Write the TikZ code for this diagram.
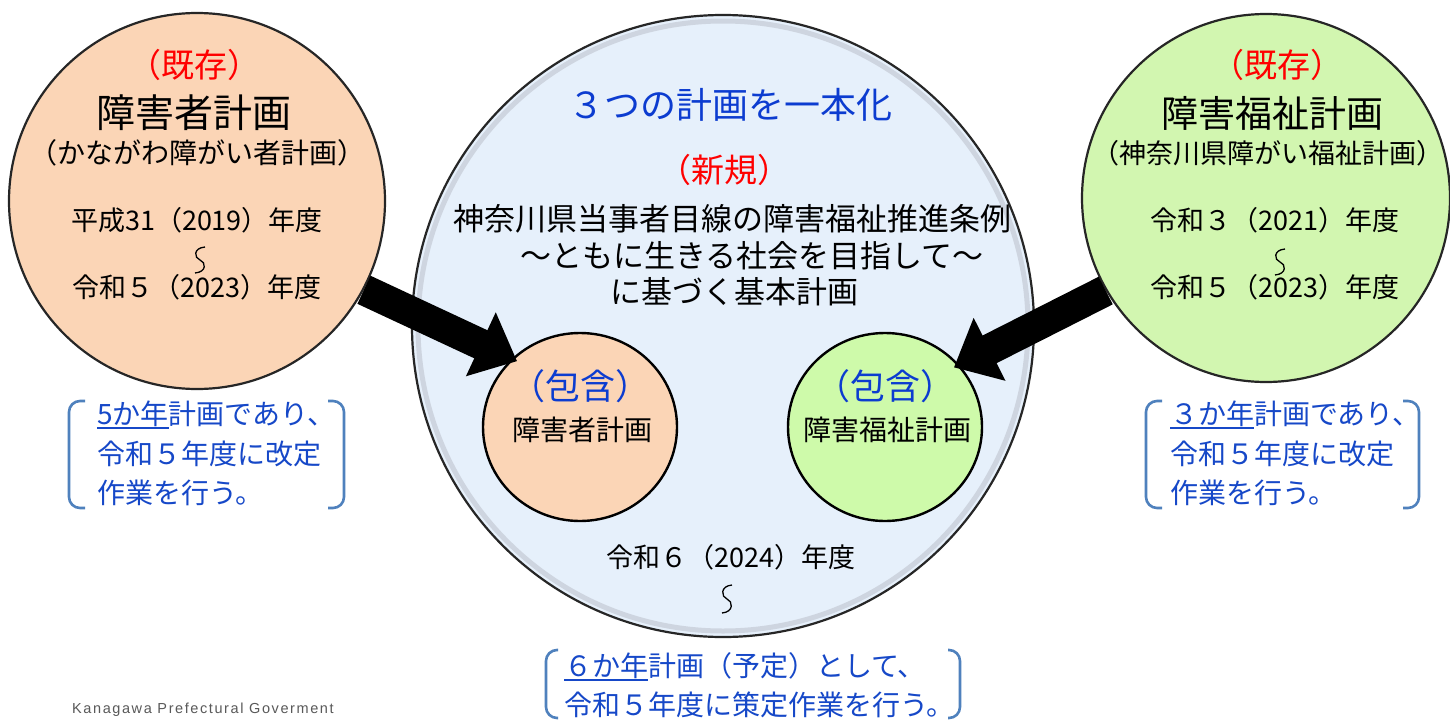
\documentclass[tikz,border=0pt]{standalone}
\usepackage{fontspec}
\setmainfont{Noto Sans CJK JP}
\newfontfamily\footfont[LetterSpace=11]{Liberation Sans}
\usetikzlibrary{arrows.meta,shapes.geometric}
\definecolor{peach}{RGB}{251,213,182}
\definecolor{lgreen}{RGB}{210,246,176}
\definecolor{sgreen}{RGB}{206,250,170}
\definecolor{cblue}{RGB}{230,240,251}
\definecolor{tblue}{RGB}{12,60,208}
\definecolor{bblue}{RGB}{22,72,200}
\definecolor{brk}{RGB}{79,129,189}
\definecolor{rimgray}{RGB}{190,196,206}
\newcommand\myul[1]{\setbox0\hbox{#1}\rlap{\color{bblue}\rule[-4pt]{\wd0}{1.6pt}}\box0}
\newcommand\fs[1]{\fontsize{#1}{#1}\selectfont}
\tikzset{
  bigc/.style={circle, draw=black!85, line width=2.2pt, inner sep=0pt},
  smallc/.style={ellipse, draw=black, line width=2.4pt, inner sep=0pt, minimum width=194pt, minimum height=188pt},
  txt/.style={inner sep=0pt, text=black},
  redt/.style={inner sep=0pt, text=red, font=\fs{33}},
  wavy/.style={line width=1.3pt, black},
  bkt/.style={draw=brk, line width=2.6pt, rounded corners=11pt},
  btxt/.style={inner sep=0pt, anchor=west, text=bblue, font=\fs{28}},
  barrow/.style={line width=31pt, shorten >=-6pt, -{Triangle[length=40pt 0 0, width=68pt 0 0]}}
}
\begin{document}
\begin{tikzpicture}[x=1pt,y=-1pt]
\useasboundingbox (0,0) rectangle (1450,720);
\fill[white] (0,0) rectangle (1450,720);

% centre circle
\node[bigc, fill=cblue, minimum size=622pt] (C) at (723,326) {};
\draw[rimgray, line width=5pt, opacity=0.6] (723,326) circle[radius=305];
% small circles
\node[smallc, fill=peach] (sl) at (580,427) {};
\node[smallc, fill=sgreen] (sr) at (885,427) {};
% big side circles
\node[bigc, fill=peach, minimum size=376pt] (L) at (197,201) {};
\node[bigc, fill=lgreen, minimum size=368pt] (R) at (1266,198) {};

% left circle texts
\node[redt] (l1) at (194,65) {（既存）};
\node[txt, font=\fs{39}] (l2) at (194,113) {障害者計画};
\node[txt, font=\fs{28}] (l3) at (197,153) {（かながわ障がい者計画）};
\node[txt, font=\fs{27}] (l4) at (197,220) {平成31（2019）年度};
\draw[wavy, shift={(200,260)}] (5,-13) .. controls (-7,-12) and (-6,-2) .. (0,0) .. controls (6,2) and (7,12) .. (-5,13);
\node[txt, font=\fs{27}] (l6) at (197,287) {令和５（2023）年度};

% right circle texts
\node[redt] (r1) at (1277,65) {（既存）};
\node[txt, font=\fs{37}] (r2) at (1272,113) {障害福祉計画};
\node[txt, font=\fs{27}] (r3) at (1268,153) {（神奈川県障がい福祉計画）};
\node[txt, font=\fs{27}] (r4) at (1275,220) {令和３（2021）年度};
\draw[wavy, shift={(1280,262)}] (5,-13) .. controls (-7,-12) and (-6,-2) .. (0,0) .. controls (6,2) and (7,12) .. (-5,13);
\node[txt, font=\fs{27}] (r6) at (1275,287) {令和５（2023）年度};

% centre texts
\node[txt, text=tblue, font=\fs{36}] (c1) at (730,105) {３つの計画を一本化};
\node[redt] (c2) at (724,170) {（新規）};
\node[txt, font=\fs{31}] (c3) at (732,219) {神奈川県当事者目線の障害福祉推進条例};
\node[txt, font=\fs{31}] (c4) at (752,256) {～ともに生きる社会を目指して～};
\node[txt, font=\fs{31}] (c5) at (734,292) {に基づく基本計画};
\node[txt, font=\fs{27}] (c6) at (731,557) {令和６（2024）年度};
\draw[wavy, shift={(727,599)}] (5,-14) .. controls (-7,-13) and (-6,-2) .. (0,0) .. controls (6,2) and (7,13) .. (-5,14);

% small circle texts
\node[txt, text=tblue, font=\fs{35}] (s1) at (580,386) {（包含）};
\node[txt, font=\fs{28}] (s2) at (582,430) {障害者計画};
\node[txt, text=tblue, font=\fs{35}] (s3) at (885,386) {（包含）};
\node[txt, font=\fs{28}] (s4) at (887,430) {障害福祉計画};

% arrows
\draw[barrow] (L.-28) -- (sl.135);
\draw[barrow] (R.210) -- (sr.40);

% bracket boxes
\draw[bkt] (85,401) -| (69,508) -- (85,508);
\draw[bkt] (328,401) -| (344,508) -- (328,508);
\node[btxt] (b1) at (97,415) {\myul{5か年}計画であり、};
\node[btxt] (b2) at (97,454) {令和５年度に改定};
\node[btxt] (b3) at (97,493) {作業を行う。};

\draw[bkt] (1162,401) -| (1146,508) -- (1162,508);
\draw[bkt] (1403,401) -| (1419,508) -- (1403,508);
\node[btxt] (b4) at (1170,415) {\myul{３か年}計画であり、};
\node[btxt] (b5) at (1170,454) {令和５年度に改定};
\node[btxt] (b6) at (1170,493) {作業を行う。};

\draw[bkt] (558,650) -| (546,718) -- (558,718);
\draw[bkt] (948,650) -| (960,718) -- (948,718);
\node[btxt] (b7) at (564,667) {\myul{６か年}計画（予定）として、};
\node[btxt] (b8) at (564,705) {令和５年度に策定作業を行う。};

% footer
\node[inner sep=0pt, anchor=west, text=black!65, font=\footfont\fs{14.5}] (ft) at (72,710) {Kanagawa Prefectural Goverment};
\end{tikzpicture}
\end{document}
